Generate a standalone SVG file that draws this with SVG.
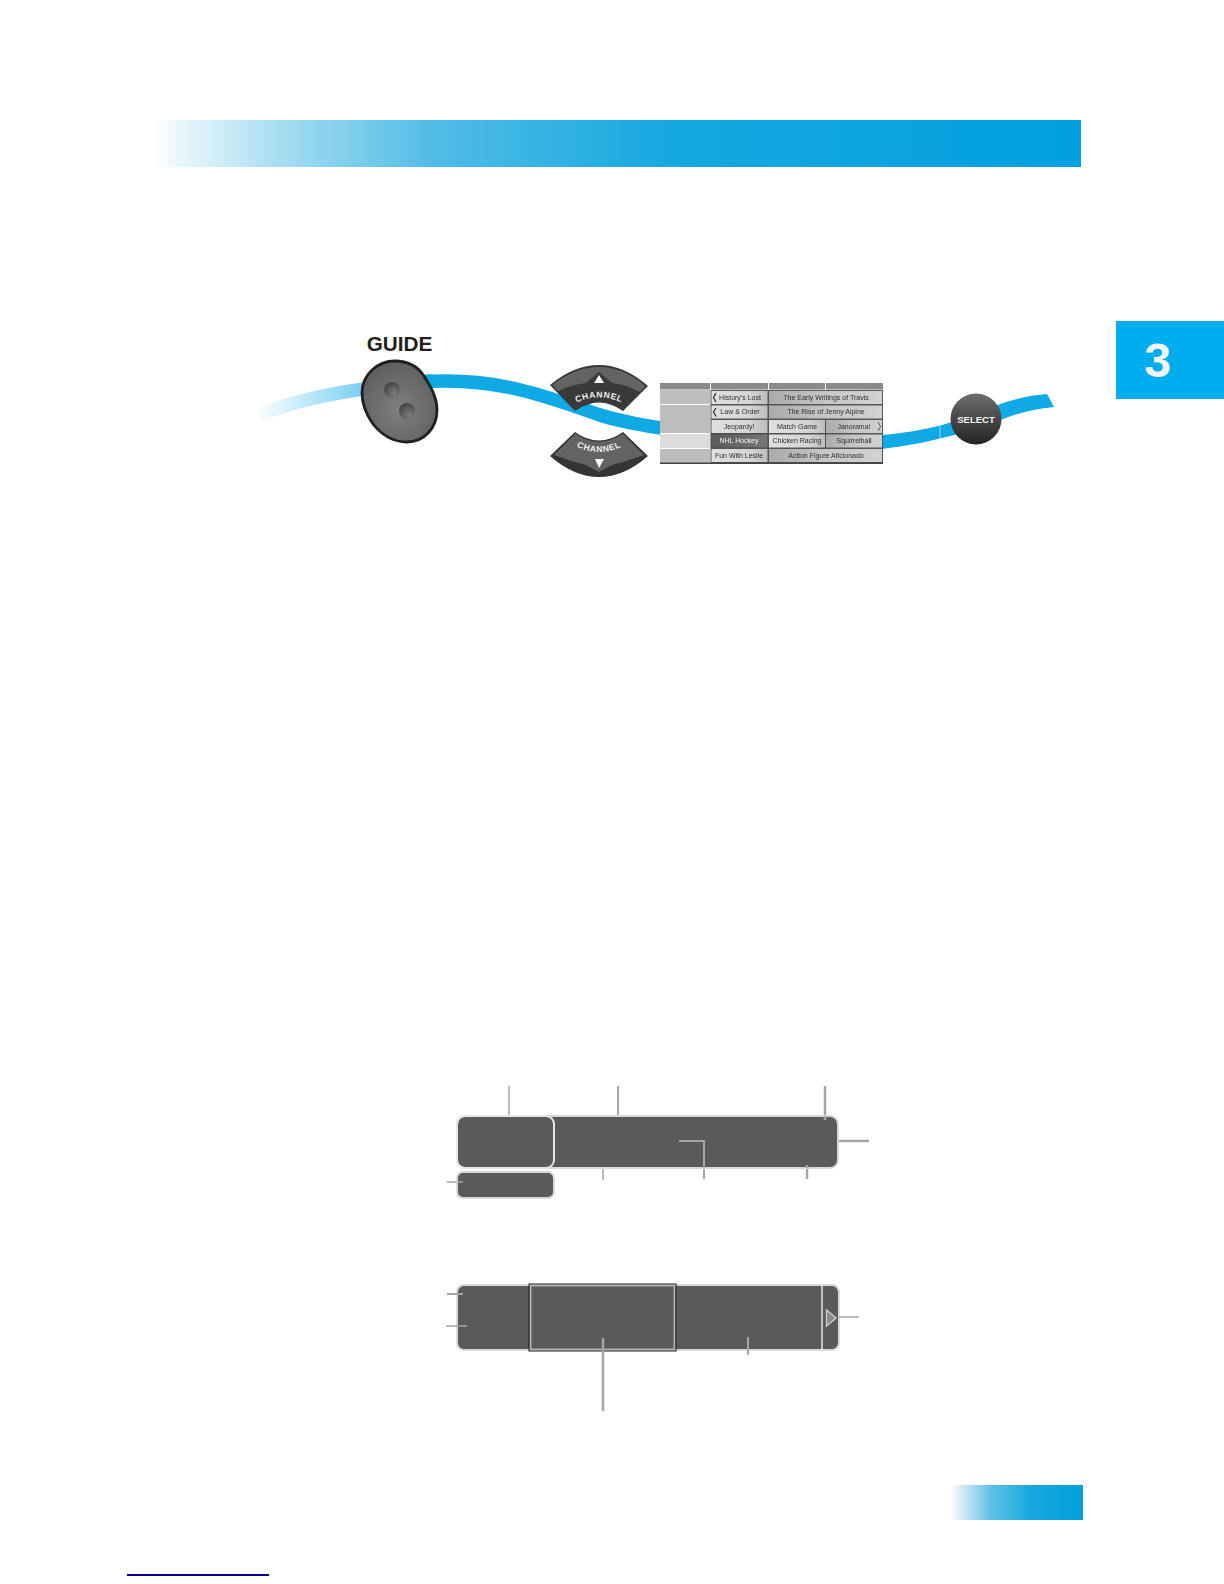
<svg xmlns="http://www.w3.org/2000/svg" width="1224" height="1584" viewBox="0 0 1224 1584">
<style>
.bar{fill:#5b595a;stroke:#d9d8d8;stroke-width:2}
.lead{fill:none;stroke:#a6a6a6}
.t{font-family:"Liberation Sans",Arial,sans-serif;font-size:7px;fill:#2e2e2e;text-anchor:middle}
.w{fill:#f4f4f4}
.ch{font-family:"Liberation Sans",Arial,sans-serif;font-size:8.500px;font-weight:bold;fill:#f2f2f2;letter-spacing:.7px;text-anchor:middle}
.cell{stroke:#555;stroke-width:1;fill:url(#cellG)}
.cellL{stroke:#555;stroke-width:1;fill:url(#cellL)}
.wave{fill:none;stroke:#0fa9e6;stroke-width:13.500}
</style>
<defs>
<linearGradient id="head" x1="0" x2="1" y1="0" y2="0"><stop offset="0" stop-color="#fff"/><stop offset=".03" stop-color="#e9f6fb"/><stop offset=".15" stop-color="#9fdaf1"/><stop offset=".3" stop-color="#52bce6"/><stop offset=".55" stop-color="#17a9e0"/><stop offset="1" stop-color="#009fdf"/></linearGradient>
<linearGradient id="foot" x1="0" x2="1" y1="0" y2="0"><stop offset="0" stop-color="#fff"/><stop offset=".1" stop-color="#cdeaf7"/><stop offset=".3" stop-color="#63c1e8"/><stop offset=".6" stop-color="#1aa8de"/><stop offset="1" stop-color="#009fda"/></linearGradient>
<linearGradient id="waveG" gradientUnits="userSpaceOnUse" x1="255" y1="0" x2="440" y2="0"><stop offset="0" stop-color="#fff"/><stop offset=".5" stop-color="#8ed6f4"/><stop offset="1" stop-color="#14abe8"/></linearGradient>
<radialGradient id="guideG" cx=".5" cy=".6" r=".6"><stop offset="0" stop-color="#808080"/><stop offset="1" stop-color="#5e5e5e"/></radialGradient>
<radialGradient id="hole" cx=".65" cy=".75" r=".75"><stop offset="0" stop-color="#7d7d7d"/><stop offset="1" stop-color="#454545"/></radialGradient>
<linearGradient id="sel" x1="0" x2="0" y1="0" y2="1"><stop offset="0" stop-color="#6e6e6e"/><stop offset=".5" stop-color="#474747"/><stop offset="1" stop-color="#242424"/></linearGradient>
<linearGradient id="cellG" x1="0" x2="1" y1="0" y2="0"><stop offset="0" stop-color="#aaa"/><stop offset=".5" stop-color="#c6c6c6"/><stop offset="1" stop-color="#d2d2d2"/></linearGradient>
<linearGradient id="cellL" x1="0" x2="1" y1="0" y2="0"><stop offset="0" stop-color="#e0e0e0"/><stop offset=".7" stop-color="#d4d4d4"/><stop offset="1" stop-color="#bcbcbc"/></linearGradient>
<linearGradient id="cellD" x1="0" x2="1" y1="0" y2="0"><stop offset="0" stop-color="#5a5a5a"/><stop offset="1" stop-color="#777"/></linearGradient>
<filter id="soft" x="-2%" y="-5%" width="104%" height="110%"><feGaussianBlur stdDeviation=".35"/></filter>
<path id="arcUp" d="M565 409 Q599 386 633 409"/>
<path id="arcDown" d="M565 440 Q599 464 633 440"/>
</defs>

<rect id="header-band" x="153" y="120" width="928" height="47" fill="url(#head)"/>
<g id="chapter-tab"><rect x="1116" y="321" width="108" height="78" fill="#00aeef"/>
<text x="1158" y="377" font-family="'Liberation Sans',Arial,sans-serif" font-size="49" font-weight="bold" fill="#f1f3f4" text-anchor="middle">3</text></g>
<rect id="footer-band" x="950" y="1485" width="133" height="35" fill="url(#foot)"/>
<rect id="footer-link" x="127" y="1574" width="142" height="2" fill="#0000a0"/>

<g id="connectors">
<path class="wave" style="stroke:url(#waveG)" d="M258 415 C292 402 330 393 372 388 C392 385 410 382 432 381"/>
<path class="wave" d="M420 382 C500 376 552 399 600 415 C622 422 642 425 661 428"/>
<path d="M882 435 C905 433 922 430 942 425 C965 419 985 410 1003 403 C1018 398 1034 395 1047 394 L1054 407 C1034 409 1018 413 1003 419 C985 427 965 433 942 438 C922 443 905 446 882 449Z" fill="#0fa9e6"/>
<path d="M940 425.500V438.500" stroke="#bfe6f7" stroke-width=".8"/>
<g id="leaders-top">
<path class="lead" stroke-width="1.500" d="M509 1086V1116"/>
<path class="lead" stroke-width="2" d="M618 1086V1117"/>
<path class="lead" stroke-width="2.500" d="M825 1086V1120"/>
<path class="lead" stroke-width="2.500" d="M838 1141H869"/>
<path class="lead" stroke-width="2" d="M704 1168V1179"/>
<path class="lead" stroke-width="1.500" d="M603 1166V1180"/>
<path class="lead" stroke-width="2.500" d="M807 1165V1179"/>
<path class="lead" stroke-width="1.500" d="M447 1182H463"/>
</g>
</g>

<g id="guide-label"><text x="399.500" y="351" font-family="'Liberation Sans',Arial,sans-serif" font-size="20.700" font-weight="bold" fill="#231f20" text-anchor="middle">GUIDE</text></g>
<g id="guide-button">
<path d="M395 361 C408 361 418 367 424 376 C429 384 437 396 437 410 C437 428 424 442 407 442 C393 442 381 434 373 424 C366 414 362 405 362 393 C362 375 377 361 395 361Z" fill="url(#guideG)" stroke="#1f1f1f" stroke-width="2.800"/>
<circle cx="392" cy="390" r="8" fill="url(#hole)"/>
<circle cx="407" cy="411" r="8" fill="url(#hole)"/>
</g>

<g id="channel-up">
<path d="M550 385 Q574 365 599 365 Q624 365 648 386 L623 411 Q599 394 575 411Z" fill="#3a3939"/>
<path d="M552.500 385 Q575 367 599 367 Q623 367 645.500 386 L640 392 Q624 384 612 383 L599 372 L586 383 Q574 384 558 391Z" fill="#646363"/>
<path d="M599 375L594 383H604Z" fill="#fff"/>
<text class="ch"><textPath href="#arcUp" startOffset="50%">CHANNEL</textPath></text>
</g>
<g id="channel-down">
<path d="M550 456 Q574 477 599 477 Q624 477 648 456 L623 432 Q599 449 575 432Z" fill="#353434"/>
<path d="M575.500 433.500 Q599 450 622.500 433.500 L644 455 Q628 461 612 465 L599 472 L586 465 Q570 461 554 455Z" fill="#646363"/>
<path d="M595 459H604L599 468Z" fill="#fff"/>
<text class="ch"><textPath href="#arcDown" startOffset="50%">CHANNEL</textPath></text>
</g>

<g id="program-guide" filter="url(#soft)">
<rect x="660" y="383" width="50" height="6.500" fill="#8a8a8a"/>
<rect x="711" y="383" width="57" height="6.500" fill="#8a8a8a"/>
<rect x="769" y="383" width="56" height="6.500" fill="#8a8a8a"/>
<rect x="826" y="383" width="57" height="6.500" fill="#8a8a8a"/>
<rect x="660" y="390" width="50" height="14" fill="#bdbdbd"/>
<rect x="660" y="405" width="50" height="28" fill="#bdbdbd"/>
<rect x="660" y="434" width="50" height="14" fill="#dcdcdc"/>
<rect x="660" y="449" width="50" height="14" fill="#bdbdbd"/>
<rect class="cellL" x="711" y="390.500" width="57" height="14"/>
<rect class="cell" x="768.500" y="390.500" width="114" height="14"/>
<rect class="cellL" x="711" y="405" width="57" height="14"/>
<rect class="cell" x="768.500" y="405" width="114" height="14"/>
<rect class="cellL" x="711" y="419.500" width="57" height="14"/>
<rect class="cellL" x="768.500" y="419.500" width="57" height="14"/>
<rect class="cell" x="825.500" y="419.500" width="57" height="14"/>
<rect x="711" y="434" width="57" height="14" fill="url(#cellD)" stroke="#4a4a4a"/>
<rect class="cellL" x="768.500" y="434" width="57" height="14"/>
<rect class="cell" x="825.500" y="434" width="57" height="14"/>
<rect class="cellL" x="711" y="448.500" width="57" height="14"/>
<rect class="cell" x="768.500" y="448.500" width="114" height="14"/>
<rect x="660" y="462.500" width="223" height="1.500" fill="#444"/>
<text class="t" x="740" y="399.500">History's Lost</text>
<text class="t" x="826" y="399.500">The Early Writings of Travis</text>
<text class="t" x="740" y="414">Law &amp; Order</text>
<text class="t" x="826" y="414">The Rise of Jenny Alpine</text>
<text class="t" x="739" y="428.500">Jeopardy!</text>
<text class="t" x="797" y="428.500">Match Game</text>
<text class="t" x="854" y="428.500">Janorama!</text>
<text class="t w" x="739" y="443">NHL Hockey</text>
<text class="t" x="797" y="443">Chicken Racing</text>
<text class="t" x="854" y="443">Squirrelball</text>
<text class="t" x="739" y="457.500">Fun With Leslie</text>
<text class="t" x="826" y="457.500">Action Figure Aficionado</text>
<path d="M716 393L713.500 397.500L716 402M716 408L713.500 412L716 416.500" fill="none" stroke="#333" stroke-width="1.300"/>
<path d="M878 422L880.500 426.500L878 431" fill="none" stroke="#555" stroke-width="1"/>
</g>

<g id="select-button">
<circle cx="976" cy="419" r="25.500" fill="url(#sel)"/>
<text x="976" y="422.500" font-family="'Liberation Sans',Arial,sans-serif" font-size="9.500" font-weight="bold" fill="#f4f4f4" text-anchor="middle">SELECT</text>
</g>

<g id="info-banner">
<rect class="bar" x="457" y="1116" width="381" height="52" rx="8"/>
<rect x="457" y="1116" width="97" height="52" rx="8" fill="none" stroke="#e6e6e6" stroke-width="2"/>
<path class="lead" stroke-width="2" d="M679 1141H704V1168"/>
<path class="lead" stroke-width="2.500" d="M825 1116V1120"/>
<path class="lead" stroke-width="2.500" d="M807 1165V1168"/>
</g>
<g id="info-small">
<rect class="bar" x="457" y="1172" width="97" height="26" rx="6"/>
<path class="lead" stroke-width="1.500" d="M457 1182H463"/>
</g>

<g id="guide-row">
<rect class="bar" x="457" y="1285" width="382" height="65" rx="7"/>
<path d="M822 1285V1350" stroke="#e8e8e8" stroke-width="1.500"/>
<rect x="530.500" y="1285.500" width="144" height="64" fill="none" stroke="#b8b8b8" stroke-width="1.800"/>
<rect x="529" y="1284" width="147" height="67" fill="none" stroke="#1c1c1c" stroke-width="1"/>
<path d="M826.500 1310V1326L836 1318Z" fill="#8a8a8a" stroke="#d0d0d0" stroke-width="1.300"/>
</g>
<g id="leaders-bottom">
<path class="lead" stroke-width="1.500" d="M839 1317H859"/>
<path class="lead" stroke-width="2" d="M447 1294H463"/>
<path class="lead" stroke-width="1.500" d="M446 1326H467"/>
<path class="lead" stroke-width="2.500" d="M603 1338V1411"/>
<path class="lead" stroke-width="2" d="M748 1337V1355"/>
</g>
</svg>
